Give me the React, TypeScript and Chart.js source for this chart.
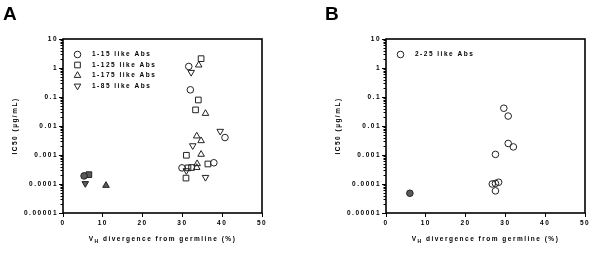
import React, { useEffect, useRef } from 'react';
import { Chart, registerables } from 'chart.js';
import { drawPoint } from 'chart.js/helpers';

Chart.register(...registerables);

// ---------- axis ticks ----------
const xTickValues = [0, 10, 20, 30, 40, 50];
const yTickValues = [10, 1, 0.1, 0.01, 0.001, 0.0001, 0.00001];
const yTickLabels = ['10', '1', '0.1', '0.01', '0.001', '0.0001', '0.00001'];

// ---------- panel A data ----------
const a115X = [31.6, 32.0, 40.7, 37.9, 29.9];
const a115Y = [1.13, 0.177, 0.004, 0.00054, 0.00036];
const a115GermX = [5.3];
const a115GermY = [0.00019];

const a1125X = [34.7, 34.0, 33.3, 31.0, 36.4, 31.4, 32.3, 30.9];
const a1125Y = [2.1, 0.079, 0.036, 0.00098, 0.00049, 0.00036, 0.00037, 0.00016];
const a1125GermX = [6.5];
const a1125GermY = [0.00021];

const a1175X = [34.1, 35.8, 33.6, 34.7, 34.7, 33.7, 33.6];
const a1175Y = [1.26, 0.027, 0.0045, 0.0031, 0.00105, 0.0005, 0.00037];
const a1175GermX = [10.8];
const a1175GermY = [0.000089];

const a185X = [32.2, 39.5, 32.6, 35.8, 31.0];
const a185Y = [0.71, 0.0066, 0.0021, 0.00017, 0.00029];
const a185GermX = [5.6];
const a185GermY = [0.000104];

// ---------- panel B data ----------
const b225X = [29.6, 30.7, 30.7, 32.0, 27.5, 26.7, 27.5, 28.3, 27.5];
const b225Y = [0.041, 0.022, 0.0025, 0.0019, 0.00105, 0.0001, 0.000105, 0.000115, 0.000058];
const b225GermX = [6.0];
const b225GermY = [0.000048];

const FONT = '"Liberation Sans", Arial, sans-serif';
const SPACING = '1.5px';

type Series = {
  label: string;
  xs: number[];
  ys: number[];
  gx: number[];
  gy: number[];
  style: string;
  radius: number;
  rotation: number;
};

const pts = (xs: number[], ys: number[]) => xs.map((x, i) => ({ x, y: ys[i] }));

type PanelCfg = {
  letter: string;
  letterX: number;
  offset: number;
  rightPad: number;
  series: Series[];
};

function buildChart(canvas: HTMLCanvasElement, cfg: PanelCfg) {
  const datasets: any[] = [];
  cfg.series.forEach((s) => {
    datasets.push({
      label: s.label,
      data: pts(s.gx, s.gy),
      pointStyle: s.style,
      pointRadius: s.radius,
      pointRotation: s.rotation,
      pointBackgroundColor: '#5a5a5a',
      pointBorderColor: '#222',
      pointBorderWidth: 1,
      showLine: false,
      isGerm: true,
    });
  });
  cfg.series.forEach((s) => {
    datasets.push({
      label: s.label,
      data: pts(s.xs, s.ys),
      pointStyle: s.style,
      pointRadius: s.radius,
      pointRotation: s.rotation,
      pointBackgroundColor: 'rgba(255,255,255,0)',
      pointBorderColor: '#222',
      pointBorderWidth: 1,
      showLine: false,
      isGerm: false,
    });
  });

  const framePlugin = {
    id: 'frame',
    beforeDraw(chart: any) {
      const ctx = chart.ctx;
      ctx.letterSpacing = SPACING;
    },
    beforeDatasetsDraw(chart: any) {
      const ctx = chart.ctx;
      const a = chart.chartArea;
      ctx.save();
      ctx.strokeStyle = '#000';
      ctx.lineWidth = 1.6;
      ctx.strokeRect(a.left, a.top, a.right - a.left, a.bottom - a.top);
      // minor log ticks
      const ys = chart.scales.y;
      ctx.lineWidth = 1;
      ctx.beginPath();
      for (let e = -5; e < 1; e++) {
        for (let m = 2; m <= 9; m++) {
          const v = m * Math.pow(10, e);
          const py = Math.round(ys.getPixelForValue(v)) + 0.5;
          ctx.moveTo(a.left - 2.5, py);
          ctx.lineTo(a.left, py);
        }
      }
      ctx.stroke();
      ctx.restore();
    },
    afterDraw(chart: any) {
      const ctx = chart.ctx;
      const a = chart.chartArea;
      ctx.save();
      ctx.letterSpacing = '0px';
      ctx.fillStyle = '#000';
      ctx.font = `bold 19px ${FONT}`;
      ctx.textAlign = 'left';
      ctx.textBaseline = 'alphabetic';
      ctx.fillText(cfg.letter, cfg.letterX, 20);

      ctx.letterSpacing = SPACING;
      ctx.font = `bold 6.5px ${FONT}`;
      // y title
      ctx.save();
      ctx.translate(a.left - 47.5, (a.top + a.bottom) / 2);
      ctx.rotate(-Math.PI / 2);
      ctx.textAlign = 'center';
      ctx.textBaseline = 'middle';
      ctx.fillText('IC50 (\u00b5g/mL)', 0, 0);
      ctx.restore();

      // x title with subscript
      const main = 'V';
      const sub = 'H';
      const rest = ' divergence from germline (%)';
      ctx.font = `bold 6.5px ${FONT}`;
      const w1 = ctx.measureText(main).width;
      const w3 = ctx.measureText(rest).width;
      ctx.font = `bold 5px ${FONT}`;
      const w2 = ctx.measureText(sub).width;
      const total = w1 + w2 + w3;
      let x = (a.left + a.right) / 2 - total / 2;
      const y = a.bottom + 27.5;
      ctx.textAlign = 'left';
      ctx.textBaseline = 'alphabetic';
      ctx.font = `bold 6.5px ${FONT}`;
      ctx.fillText(main, x, y);
      x += w1;
      ctx.font = `bold 5px ${FONT}`;
      ctx.fillText(sub, x, y + 2);
      x += w2;
      ctx.font = `bold 6.5px ${FONT}`;
      ctx.fillText(rest, x, y);

      // legend
      const legendItems = chart.data.datasets.filter((d: any) => !d.isGerm);
      legendItems.forEach((d: any, i: number) => {
        const ly = a.top + 15.5 + i * 10.5;
        const lx = a.left + 14.5;
        ctx.fillStyle = 'rgba(255,255,255,0)';
        ctx.strokeStyle = '#222';
        ctx.lineWidth = 1;
        drawPoint(ctx, { pointStyle: d.pointStyle, radius: d.pointRadius, rotation: d.pointRotation, borderWidth: 1 } as any, lx, ly);
        ctx.fillStyle = '#000';
        ctx.font = `bold 6.5px ${FONT}`;
        ctx.textBaseline = 'middle';
        ctx.fillText(d.label, a.left + 29, ly);
      });
      ctx.restore();
    },
  };

  return new Chart(canvas, {
    type: 'scatter',
    data: { datasets },
    options: {
      animation: false,
      responsive: false,
      maintainAspectRatio: false,
      devicePixelRatio: 1,
      events: [],
      layout: { padding: { left: cfg.offset, right: cfg.rightPad, top: 39, bottom: 0 } },
      plugins: {
        legend: { display: false },
        tooltip: { enabled: false },
        title: { display: false },
      },
      scales: {
        x: {
          type: 'linear',
          min: 0,
          max: 50,
          afterBuildTicks: (s: any) => {
            s.ticks = xTickValues.map((v) => ({ value: v }));
          },
          afterFit: (s: any) => {
            s.height = 40;
          },
          grid: { drawOnChartArea: false, drawTicks: true, tickLength: 4, color: '#000', lineWidth: 1 },
          border: { display: false },
          ticks: {
            color: '#000',
            padding: 2,
            maxRotation: 0,
            autoSkip: false,
            font: { family: FONT, weight: 'bold', size: 6.5 },
          },
        },
        y: {
          type: 'logarithmic',
          min: 0.00001,
          max: 10,
          afterBuildTicks: (s: any) => {
            s.ticks = yTickValues.map((v) => ({ value: v }));
          },
          afterFit: (s: any) => {
            s.width = 63;
          },
          grid: { drawOnChartArea: false, drawTicks: true, tickLength: 4, color: '#000', lineWidth: 1 },
          border: { display: false },
          ticks: {
            color: '#000',
            padding: 1,
            autoSkip: false,
            font: { family: FONT, weight: 'bold', size: 6.5 },
            callback: (v: any) => {
              const i = yTickValues.findIndex((t) => Math.abs(t - v) / t < 1e-6);
              return i >= 0 ? yTickLabels[i] : '';
            },
          },
        },
      },
    } as any,
    plugins: [framePlugin],
  });
}

const panelA: PanelCfg = {
  letter: 'A',
  letterX: 3,
  offset: 0,
  rightPad: 38,
  series: [
    { label: '1-15 like Abs', xs: a115X, ys: a115Y, gx: a115GermX, gy: a115GermY, style: 'circle', radius: 3.3, rotation: 0 },
    { label: '1-125 like Abs', xs: a1125X, ys: a1125Y, gx: a1125GermX, gy: a1125GermY, style: 'rect', radius: 4, rotation: 0 },
    { label: '1-175 like Abs', xs: a1175X, ys: a1175Y, gx: a1175GermX, gy: a1175GermY, style: 'triangle', radius: 3.8, rotation: 0 },
    { label: '1-85 like Abs', xs: a185X, ys: a185Y, gx: a185GermX, gy: a185GermY, style: 'triangle', radius: 3.8, rotation: 180 },
  ],
};

const panelB: PanelCfg = {
  letter: 'B',
  letterX: 25,
  offset: 23,
  rightPad: 15,
  series: [
    { label: '2-25 like Abs', xs: b225X, ys: b225Y, gx: b225GermX, gy: b225GermY, style: 'circle', radius: 3.3, rotation: 0 },
  ],
};

function Panel({ cfg }: { cfg: PanelCfg }) {
  const ref = useRef<HTMLCanvasElement | null>(null);
  useEffect(() => {
    if (!ref.current) return;
    const chart = buildChart(ref.current, cfg);
    return () => chart.destroy();
  }, [cfg]);
  return <canvas ref={ref} width={300} height={253} style={{ display: 'block', width: 300, height: 253 }} />;
}

export default function App() {
  return (
    <div style={{ position: 'absolute', left: 0, top: 0, width: 600, height: 253, display: 'flex', background: '#fff' }}>
      <Panel cfg={panelA} />
      <Panel cfg={panelB} />
    </div>
  );
}
